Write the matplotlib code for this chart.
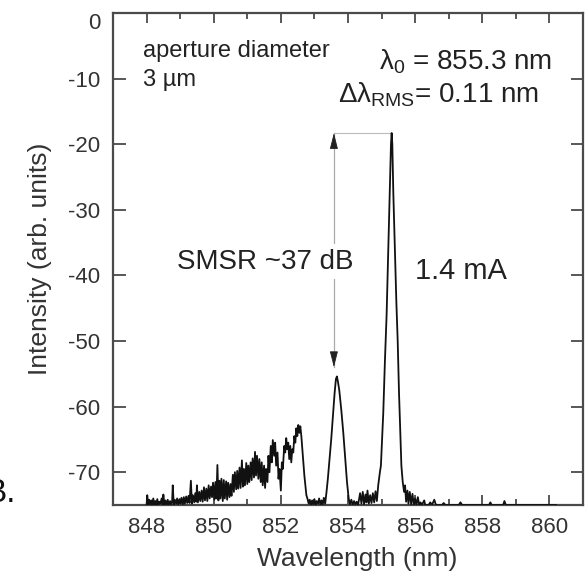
import numpy as np
import matplotlib
matplotlib.use("Agg")
import matplotlib.pyplot as plt

plt.rcParams["font.family"] = ["Liberation Sans", "DejaVu Sans"]
plt.rcParams["mathtext.fontset"] = "custom"
plt.rcParams["mathtext.rm"] = "Liberation Sans"
plt.rcParams["mathtext.it"] = "Liberation Sans:italic"
plt.rcParams["axes.unicode_minus"] = False

# broad noisy spontaneous-emission shoulder (nm, dB)
noise_wl = [848.00, 848.02, 848.05, 848.08, 848.11, 848.14, 848.17, 848.20, 848.23, 848.26,
            848.29, 848.32, 848.35, 848.38, 848.41, 848.45, 848.48, 848.50, 848.53, 848.56,
            848.60, 848.63, 848.66, 848.70, 848.73, 848.76, 848.78, 848.81, 848.84, 848.88,
            848.91, 848.94, 848.98, 849.01, 849.04, 849.08, 849.11, 849.14, 849.18, 849.21,
            849.25, 849.28, 849.32, 849.35, 849.38, 849.42, 849.45, 849.48, 849.50, 849.53,
            849.57, 849.60, 849.64, 849.67, 849.71, 849.74, 849.78, 849.81, 849.85, 849.88,
            849.92, 849.95, 849.98, 850.02, 850.05, 850.08, 850.11, 850.14, 850.17, 850.20,
            850.23, 850.27, 850.30, 850.33, 850.37, 850.40, 850.43, 850.47, 850.50, 850.53,
            850.57, 850.60, 850.63, 850.67, 850.70, 850.73, 850.77, 850.80, 850.84, 850.87,
            850.90, 850.93, 850.97, 851.00, 851.03, 851.06, 851.10, 851.13, 851.16, 851.20,
            851.23, 851.26, 851.29, 851.33, 851.36, 851.40, 851.43, 851.46, 851.50, 851.53,
            851.56, 851.60, 851.63, 851.66, 851.70, 851.73, 851.76, 851.80, 851.83, 851.86,
            851.90, 851.93, 851.96, 852.00, 852.03, 852.06, 852.10, 852.13, 852.16, 852.19,
            852.22, 852.25, 852.28, 852.31, 852.34, 852.37, 852.40, 852.43, 852.46, 852.49,
            852.52, 852.55, 852.58, 852.61, 852.64, 852.67, 852.70, 852.73, 852.76, 852.79,
            852.83, 852.86, 852.90, 852.93, 852.97, 853.00, 853.04, 853.07, 853.11, 853.14,
            853.18, 853.21, 853.25, 853.28, 853.32]
noise_db = [-75.0, -73.5, -74.9, -74.2, -75.0, -74.3, -74.9, -74.0, -75.0, -74.4,
            -74.9, -74.1, -75.0, -74.5, -74.8, -74.0, -75.0, -73.4, -75.0, -74.3,
            -74.9, -74.2, -75.0, -74.4, -74.9, -74.6, -72.0, -75.0, -74.2, -74.8,
            -74.0, -74.9, -74.1, -74.8, -73.9, -74.9, -73.8, -74.8, -73.7, -74.7,
            -73.6, -74.7, -71.3, -74.8, -73.5, -74.6, -73.2, -74.5, -72.0, -74.6,
            -73.0, -74.4, -72.8, -74.5, -72.3, -74.3, -72.5, -74.4, -72.0, -74.0,
            -72.2, -73.8, -71.6, -74.2, -71.5, -74.0, -68.9, -74.3, -71.3, -74.0,
            -71.0, -74.4, -71.2, -74.0, -71.4, -74.2, -71.6, -73.8, -71.8, -73.6,
            -70.4, -73.0, -70.0, -72.6, -69.8, -72.5, -69.3, -72.4, -68.2, -72.2,
            -69.5, -72.0, -68.6, -71.8, -69.0, -71.5, -68.5, -71.2, -67.9, -70.8,
            -66.9, -70.5, -67.5, -71.0, -68.0, -71.5, -68.5, -72.0, -69.0, -72.4,
            -69.5, -71.5, -67.5, -70.0, -66.0, -68.5, -65.1, -67.5, -65.5, -69.0,
            -67.0, -71.0, -69.5, -72.8, -68.5, -69.5, -66.0, -67.0, -64.8, -66.5,
            -65.5, -68.0, -66.0, -68.5, -66.5, -67.0, -64.5, -65.5, -63.3, -64.5,
            -62.8, -64.0, -63.0, -64.5, -66.5, -68.5, -70.5, -72.0, -73.5, -74.0,
            -74.8, -74.2, -75.0, -74.3, -74.9, -74.1, -75.0, -74.4, -74.8, -74.0,
            -75.0, -74.3, -74.9, -73.9, -74.8]

# side mode near 853.7 nm
side_wl = [853.36, 853.40, 853.45, 853.50, 853.55, 853.60, 853.64, 853.67, 853.70, 853.74,
           853.80, 853.86, 853.92, 853.97, 854.02]
side_db = [-73.0, -71.0, -68.0, -65.0, -61.5, -58.0, -55.8, -55.4, -56.2, -57.5,
           -60.5, -64.0, -68.0, -71.5, -74.0]

# floor between the modes
gap_wl = [854.06, 854.10, 854.14, 854.18, 854.22, 854.26, 854.30, 854.36, 854.40, 854.44,
          854.48, 854.52, 854.55, 854.58, 854.62, 854.66, 854.70, 854.74, 854.78, 854.82,
          854.86]
gap_db = [-74.9, -74.2, -75.0, -74.4, -74.9, -74.5, -75.0, -73.2, -74.8, -73.0,
          -74.9, -73.4, -74.6, -72.8, -74.8, -73.5, -74.7, -73.2, -74.6, -72.9,
          -74.4]

# main lasing mode at 855.3 nm
main_wl = [854.90, 854.95, 854.98, 855.05, 855.10, 855.15, 855.20, 855.24, 855.28, 855.30,
           855.32, 855.35, 855.40, 855.44, 855.48, 855.52, 855.56, 855.59, 855.63, 855.67]
main_db = [-72.0, -70.0, -69.0, -61.0, -53.0, -46.0, -36.0, -27.5, -20.0, -18.3,
           -20.0, -27.5, -37.0, -44.0, -50.0, -58.0, -64.5, -69.0, -71.5, -73.0]

# long-wavelength floor with a few spikes
tail_wl = [855.70, 855.73, 855.77, 855.80, 855.84, 855.88, 855.92, 855.96, 856.00, 856.04,
           856.08, 856.12, 856.16, 856.20, 856.27, 856.30, 856.40, 856.45, 856.50, 856.57,
           856.62, 856.80, 856.85, 856.90, 857.30, 857.35, 857.40, 858.20, 858.24, 858.28,
           858.62, 858.66, 858.70, 860.20]
tail_db = [-72.0, -74.5, -72.8, -74.8, -73.0, -74.9, -73.3, -75.0, -74.0, -75.0,
           -73.8, -75.0, -74.6, -75.0, -74.3, -75.0, -75.0, -74.6, -75.0, -74.2,
           -75.0, -75.0, -74.7, -75.0, -75.0, -74.6, -75.0, -75.0, -74.6, -75.0,
           -75.0, -74.4, -75.0, -75.0]

x_ticks = [848, 850, 852, 854, 856, 858, 860]
y_ticks = [-70, -60, -50, -40, -30, -20, -10, 0]

peak_wl, peak_db = 855.30, -18.3
smsr_wl, smsr_db = 853.58, -54.0

wl = np.concatenate([noise_wl, side_wl, gap_wl, main_wl, tail_wl])
db = np.concatenate([noise_db, side_db, gap_db, main_db, tail_db])

fig = plt.figure(figsize=(5.87, 5.78), dpi=100)
ax = fig.add_axes([0.1925, 0.1263, 0.8007, 0.8512])

ax.plot(wl, db, color="#111111", lw=1.3, zorder=3)

ax.set_xlim(847, 861)
ax.set_ylim(-75, 0)
ax.set_xticks(x_ticks)
ax.set_xticks(np.arange(847, 862, 1), minor=True)
ax.set_yticks(y_ticks)

frame = "#4a4a4a"
for s in ax.spines.values():
    s.set_color(frame)
    s.set_linewidth(1.6)
ax.tick_params(which="both", direction="in", top=True, right=True, color=frame,
               labelsize=16, labelcolor="#333333", pad=9)
ax.tick_params(which="major", length=7, width=1.3)
ax.tick_params(which="minor", length=4, width=1.3)
ax.tick_params(axis="y", which="major", length=9)

# top label sits just under the spine
ax.yaxis.get_major_ticks()[-1].label1.set_verticalalignment("top")

ax.set_xlabel("Wavelength (nm)", fontsize=19, color="#333333")
ax.set_ylabel("Intensity (arb. units)", fontsize=19, color="#333333")
ax.xaxis.set_label_coords(0.519, -0.085)
ax.yaxis.set_label_coords(-0.13, 0.5)

# SMSR double arrow: light stem, dark narrow heads
ax.plot([smsr_wl, peak_wl], [peak_db, peak_db], color="#bbbbbb", lw=0.8, zorder=2)
ax.plot([smsr_wl, smsr_wl], [peak_db, smsr_db], color="#aaaaaa", lw=0.9, zorder=2)
head = dict(arrowstyle="-|>, head_length=1.1, head_width=0.28", color="#222222", lw=0.6,
            mutation_scale=9, shrinkA=0, shrinkB=0)
ax.annotate("", xy=(smsr_wl, peak_db), xytext=(smsr_wl, peak_db - 2.2), arrowprops=head,
            zorder=2)
ax.annotate("", xy=(smsr_wl, smsr_db), xytext=(smsr_wl, smsr_db + 2.2), arrowprops=head,
            zorder=2)

ax.text(848.9, -37.9, "SMSR ~37 dB", fontsize=20, color="#222222", va="center", ha="left",
        zorder=4, bbox=dict(facecolor="white", edgecolor="none", pad=3))
ax.text(857.35, -39.3, "1.4 mA", fontsize=21, color="#222222", va="center", ha="center")
ax.text(847.9, -5.8, "aperture diameter", fontsize=17, color="#222222", va="center")
ax.text(847.9, -10.2, "3 µm", fontsize=17, color="#222222", va="center")
ax.text(854.92, -7.5, "λ$_0$ = 855.3 nm", fontsize=20, color="#222222", va="center")
ax.text(853.70, -12.4, "Δλ$_{\\mathrm{RMS}}$= 0.11 nm", fontsize=20, color="#222222",
        va="center")

# panel letter, partly cut by the left edge as in the source figure
fig.text(-0.027, 0.147, "B.", fontsize=24, color="#111111", va="center", ha="left")

fig.savefig("out.png", dpi=100)
